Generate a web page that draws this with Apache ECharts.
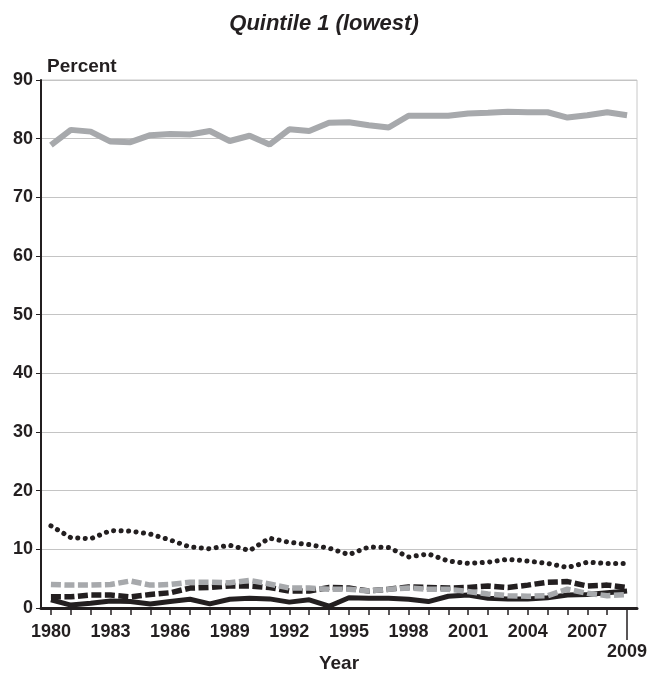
<!DOCTYPE html>
<html>
<head>
<meta charset="utf-8">
<script src="https://cdn.jsdelivr.net/npm/echarts@6/dist/echarts.min.js"></script>
<style>html,body{margin:0;padding:0;background:#fff}#c{width:648px;height:679px}</style>
</head>
<body>
<div id="c"></div>
<script>
var years = [];
for (var y = 1980; y <= 2009; y++) years.push(String(y));

var graySolid = [78.9,81.5,81.2,79.5,79.4,80.6,80.8,80.7,81.3,79.6,80.5,79.0,81.6,81.3,82.7,82.8,82.3,81.9,83.9,83.9,83.9,84.3,84.4,84.6,84.5,84.5,83.6,84.0,84.5,84.0];
var blackDotted = [14.0,12.0,11.8,13.2,13.1,12.6,11.6,10.4,10.1,10.7,9.8,11.9,11.2,10.8,10.2,9.1,10.4,10.3,8.7,9.2,8.0,7.6,7.8,8.3,8.0,7.6,6.9,7.8,7.6,7.6];
var grayDashed = [4.0,3.9,3.9,4.0,4.6,3.9,4.0,4.4,4.4,4.3,4.7,4.1,3.4,3.4,3.2,3.2,2.9,3.2,3.4,3.2,3.2,2.8,2.4,2.1,2.0,2.1,3.2,2.5,2.1,2.3];
var blackDashed = [1.9,1.9,2.2,2.2,1.9,2.3,2.6,3.4,3.5,3.75,3.75,3.5,2.9,2.9,3.5,3.4,2.9,3.2,3.6,3.5,3.4,3.5,3.75,3.5,3.9,4.4,4.5,3.75,3.9,3.5];
var blackSolid = [1.4,0.5,0.8,1.2,1.1,0.7,1.1,1.5,0.7,1.5,1.65,1.55,1.0,1.4,0.3,1.75,1.65,1.65,1.5,1.1,2.0,2.2,1.65,1.55,1.55,1.75,2.2,2.3,2.6,2.9];
var yTicks = [0,10,20,30,40,50,60,70,80,90];

var BLACK = '#231f20', GRAY = '#a7a9ac';
var FONT = 'Liberation Sans, Arial, sans-serif';

var chart = echarts.init(document.getElementById('c'));
chart.setOption({
  animation: false,
  backgroundColor: '#fff',
  title: {
    text: 'Quintile 1 (lowest)',
    left: 'center',
    top: 8,
    textStyle: {fontFamily: FONT, fontSize: 22, fontWeight: 'bold', fontStyle: 'italic', color: BLACK}
  },
  grid: {left: 41, right: 11, top: 80, bottom: 71, show: true, borderColor: '#c8c8c8', borderWidth: 1,
    containLabel: false, outerBoundsMode: 'none'},
  xAxis: [{
    type: 'category',
    data: years,
    boundaryGap: true,
    name: 'Year',
    nameLocation: 'middle',
    nameGap: 46,
    nameMoveOverlap: false,
    nameTextStyle: {fontFamily: FONT, fontSize: 19, fontWeight: 'bold', color: BLACK},
    axisLine: {lineStyle: {color: BLACK, width: 3}},
    axisTick: {show: true, alignWithLabel: true, interval: 0, length: 7, lineStyle: {color: BLACK, width: 1.5}},
    axisLabel: {
      interval: 0, margin: 14,
      fontFamily: FONT, fontSize: 18, fontWeight: 'bold', color: BLACK, lineHeight: 20,
      formatter: function (v) {
        var n = +v;
        if (n === 2009) return '\n2009';
        return ((n - 1980) % 3 === 0) ? v : '';
      }
    },
    splitLine: {show: false}
  }, {
    type: 'category',
    data: years,
    boundaryGap: true,
    position: 'bottom',
    axisLine: {show: false},
    axisLabel: {show: false},
    axisTick: {show: true, alignWithLabel: true, length: 32, lineStyle: {color: BLACK, width: 1.5},
      interval: function (i, v) { return v === '2009'; }},
    splitLine: {show: false}
  }],
  yAxis: {
    type: 'value',
    min: 0, max: 90, interval: 10,
    name: 'Percent',
    nameLocation: 'end',
    nameGap: 4,
    nameTextStyle: {fontFamily: FONT, fontSize: 19, fontWeight: 'bold', color: BLACK, align: 'left', padding: [0, 0, 0, 6]},
    axisLine: {show: true, lineStyle: {color: BLACK, width: 2}},
    axisTick: {show: true, length: 5, lineStyle: {color: BLACK, width: 1}},
    axisLabel: {margin: 8, fontFamily: FONT, fontSize: 18, fontWeight: 'bold', color: BLACK,
      formatter: function (v) { return yTicks.indexOf(v) >= 0 ? String(v) : ''; }},
    splitLine: {lineStyle: {color: '#c4c4c4', width: 1}}
  },
  series: [
    {type: 'line', data: graySolid, symbol: 'none', lineStyle: {color: GRAY, width: 6}},
    {type: 'line', data: blackDotted, symbol: 'none', lineStyle: {color: BLACK, width: 5, type: [0.1, 7.4], cap: 'round'}},
    {type: 'line', data: blackSolid, symbol: 'none', lineStyle: {color: BLACK, width: 5}},
    {type: 'line', data: blackDashed, symbol: 'none', lineStyle: {color: BLACK, width: 5.5, type: [10, 3.5]}},
    {type: 'line', data: grayDashed, symbol: 'none', lineStyle: {color: GRAY, width: 5.5, type: [10, 3.5]}}
  ]
});
</script>
</body>
</html>
